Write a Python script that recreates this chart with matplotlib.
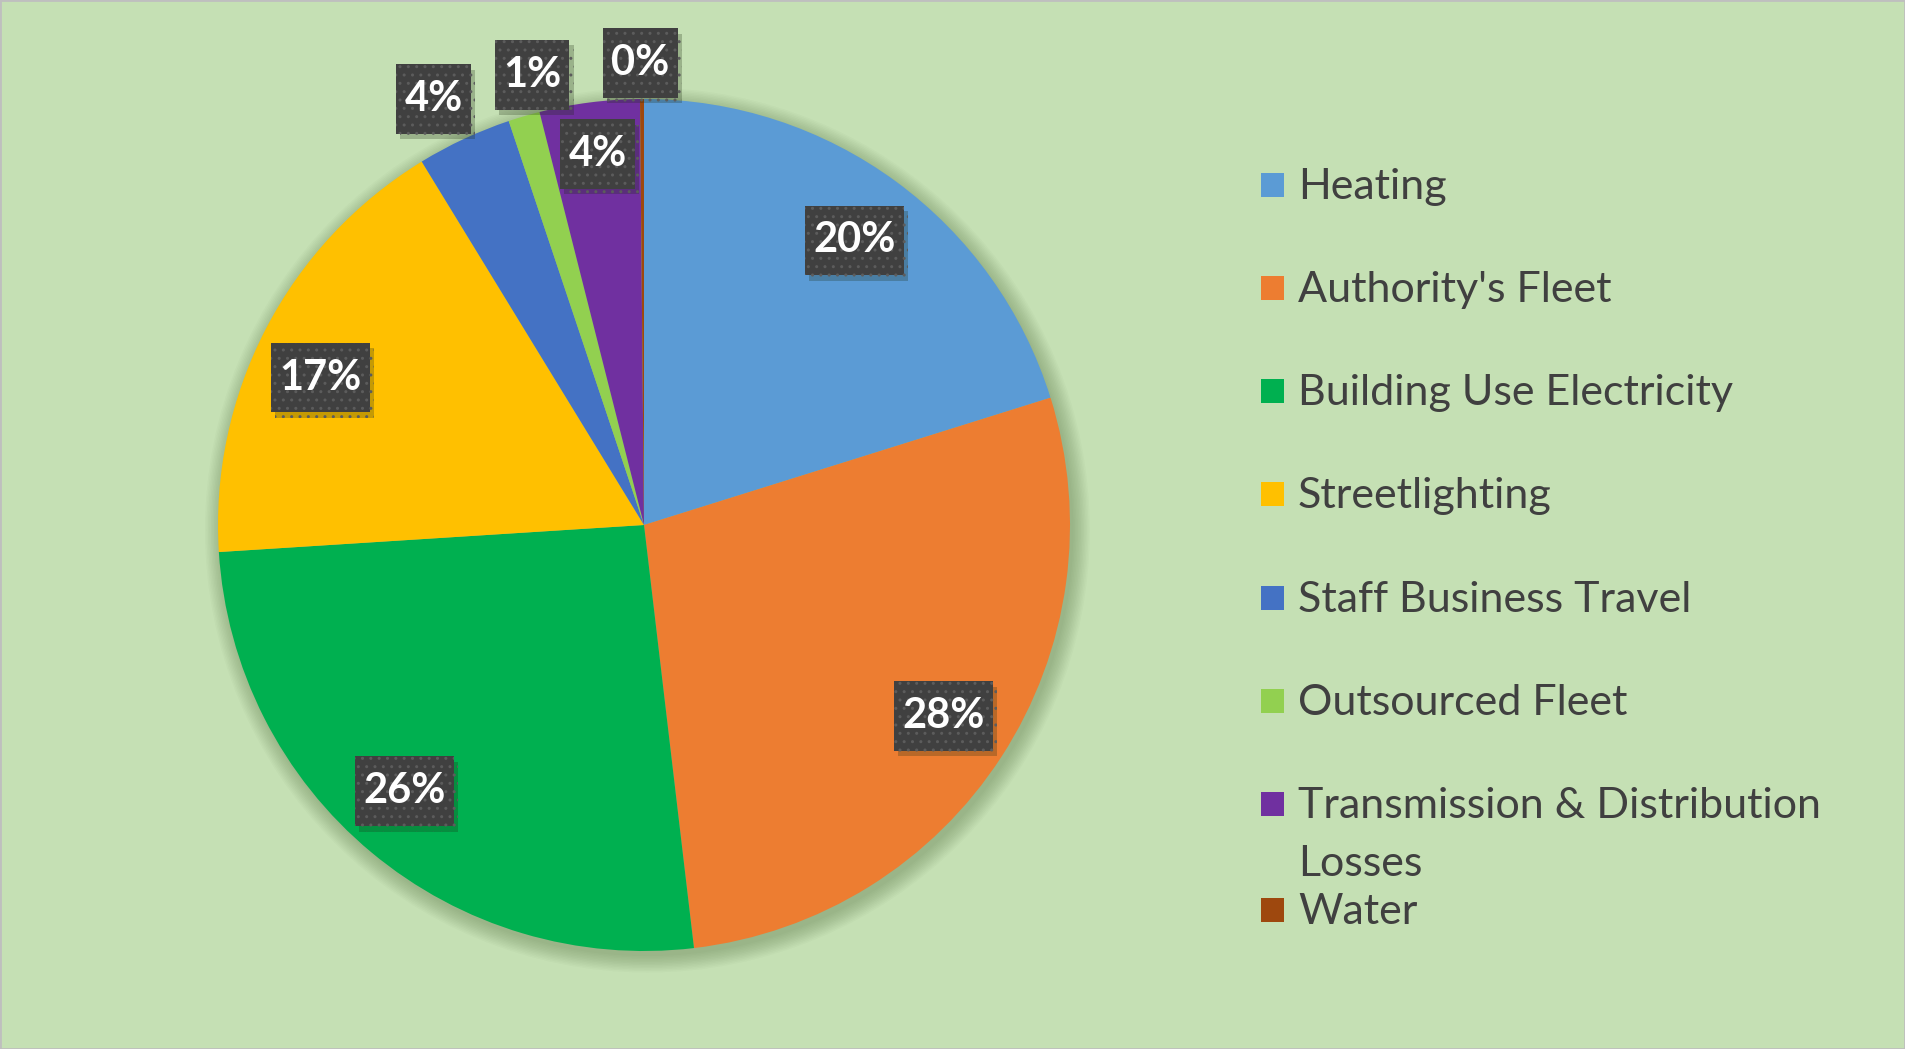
import matplotlib
matplotlib.use("Agg")
import matplotlib.pyplot as plt
import matplotlib.patheffects as pe
from matplotlib.patches import Circle, Rectangle
from matplotlib.path import Path

# ---------- Data ----------
categories = ["Heating", "Authority's Fleet", "Building Use Electricity", "Streetlighting",
              "Staff Business Travel", "Outsourced Fleet", "Transmission & Distribution Losses", "Water"]
shares = [20.2, 28.0, 25.9, 17.3, 3.6, 1.2, 3.8, 0.15]
colors = ["#5B9BD5", "#ED7D31", "#00B050", "#FFC000", "#4472C4", "#92D050", "#7030A0", "#9E480E"]

# label box centres (pie radius units)
label_pos = [(0.494, 0.668), (0.703, -0.448), (-0.563, -0.625), (-0.760, 0.346),
             (-0.494, 1.000), (-0.263, 1.057), (-0.109, 0.871), (-0.009, 1.085)]

BG = "#C5E0B4"
W, H = 1905, 1049
CX, CY, R = 644, 525, 426


def label_box(x0, y0, width, height, mutation_size):
    # rectangle with more padding top/bottom than left/right
    px, py = 0.2 * mutation_size, 0.38 * mutation_size
    x0, y0 = x0 - px, y0 - py
    x1, y1 = x0 + width + 2 * px, y0 + height + 2 * py
    return Path([(x0, y0), (x1, y0), (x1, y1), (x0, y1), (x0, y0)], closed=True)


plt.rcParams["font.family"] = ["Lato", "DejaVu Sans"]

fig = plt.figure(figsize=(W / 100, H / 100), dpi=100)
fig.patch.set_facecolor(BG)
ax = fig.add_axes([0, 0, 1, 1])
ax.set_facecolor(BG)

# soft shadow under the pie
for k in range(12):
    ax.add_patch(Circle((0.008, -0.012), 1.0 + 0.0035 * k, color="#3d5a2a",
                        alpha=0.028, lw=0, zorder=0))

ax.pie(shares, colors=colors, startangle=90, counterclock=False, radius=1.0,
       center=(0, 0), wedgeprops=dict(linewidth=0), frame=True)
ax.set_xlim(-CX / R, (W - CX) / R)
ax.set_ylim(-(H - CY) / R, CY / R)
ax.set_aspect("auto")
ax.axis("off")

total = sum(shares)
box_shadow = [pe.SimplePatchShadow(offset=(3, -4), shadow_rgbFace="#1a2a10", alpha=0.25),
              pe.Normal()]
for v, (x, y) in zip(shares, label_pos):
    txt = f"{round(v / total * 100)}%"
    t = ax.text(x, y, txt, ha="center", va="center", fontsize=30, fontweight="bold",
                color="white", zorder=5,
                bbox=dict(boxstyle=label_box, fc="#404040", ec="#5c5c5c", lw=0, hatch=".."))
    t.get_bbox_patch().set_path_effects(box_shadow)

# ---------- Legend ----------
leg_rows = [185, 288, 391, 494, 598, 701, 804, 910]
for name, c, yc in zip(categories, colors, leg_rows):
    fig.patches.append(Rectangle((1261 / W, 1 - (yc + 12) / H), 23 / W, 24 / H,
                                 transform=fig.transFigure, fc=c, ec="none"))
    if name.startswith("Transmission"):
        fig.text(1298 / W, 1 - (yc + 14) / H, "Transmission & Distribution",
                 fontsize=31, color="#404040", va="baseline")
        fig.text(1298 / W, 1 - (yc + 72) / H, "Losses",
                 fontsize=31, color="#404040", va="baseline")
    else:
        fig.text(1298 / W, 1 - (yc + 14) / H, name, fontsize=31, color="#404040", va="baseline")

# thin border
fig.patches.append(Rectangle((0, 0), 1, 1, transform=fig.transFigure, fill=False,
                             ec="#BFBFBF", lw=2))

fig.savefig("out.png", dpi=100, facecolor=BG)
